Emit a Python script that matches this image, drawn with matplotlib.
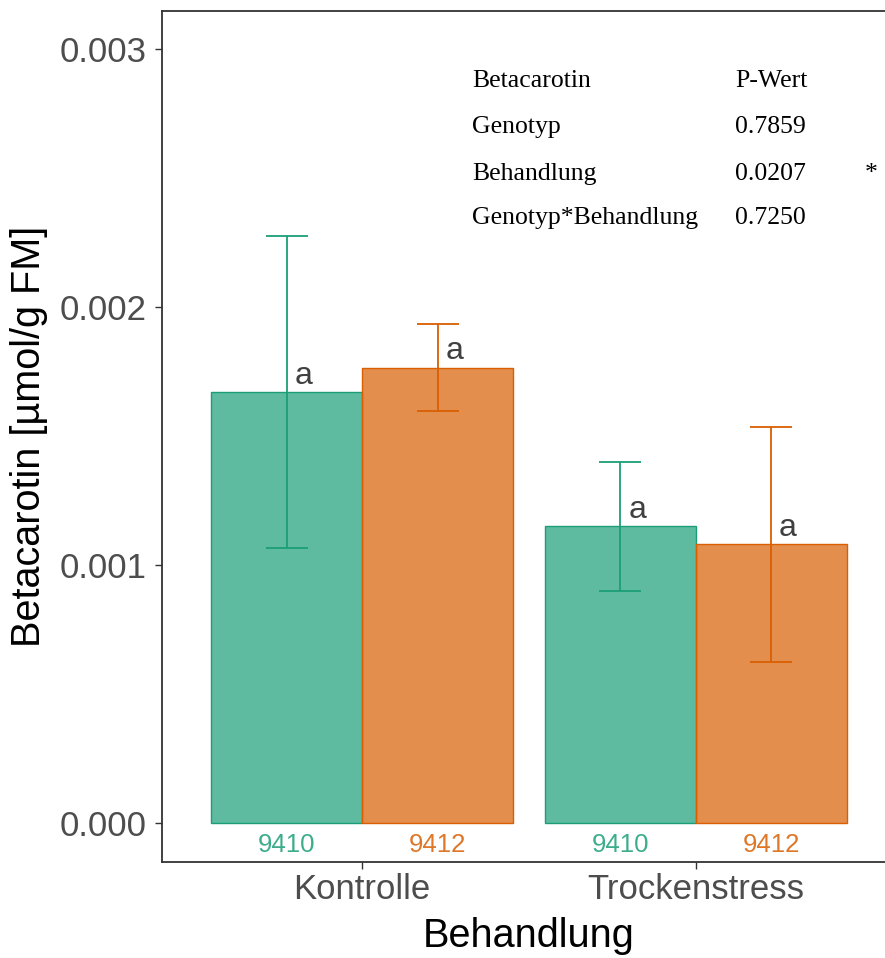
import matplotlib.pyplot as plt
import numpy as np

# Betacarotin per genotype and treatment (means and standard errors)
treatments = ['Kontrolle', 'Trockenstress']
genotypes = ['9410', '9412']
means = {'9410': [0.001670, 0.001151],
         '9412': [0.001764, 0.001081]}
errors = {'9410': [0.000605, 0.000250],
          '9412': [0.000169, 0.000455]}
letters = {'9410': ['a', 'a'],
           '9412': ['a', 'a']}

# ANOVA table shown in the upper right
table_header = ['Betacarotin', 'P-Wert']
table_terms = ['Genotyp', 'Behandlung', 'Genotyp*Behandlung']
table_pvalues = ['0.7859', '0.0207', '0.7250']
table_signif = ['', '*', '']

colors = {'9410': '#1B9E77', '9412': '#D95F02'}

sans = ['Liberation Sans', 'DejaVu Sans']
serif = ['Liberation Serif', 'DejaVu Serif']

fig = plt.figure(figsize=(8.85, 9.58), dpi=100)
ax = fig.add_axes([162 / 885, 96 / 958, 734 / 885, 851 / 958])

x = np.arange(1, len(treatments) + 1)
width = 0.452
offsets = {'9410': -width / 2, '9412': width / 2}

for g in genotypes:
    xpos = x + offsets[g]
    ax.bar(xpos, means[g], width=width, color=colors[g], alpha=0.7,
           edgecolor='none', zorder=2)
    ax.bar(xpos, means[g], width=width, facecolor='none',
           edgecolor=colors[g], linewidth=1.0, zorder=3)
    ax.errorbar(xpos, means[g], yerr=errors[g], fmt='none', ecolor=colors[g],
                elinewidth=1.3, capsize=15, capthick=1.3, zorder=4)
    for xi, m, lab in zip(xpos, means[g], letters[g]):
        ax.annotate(lab, (xi + 0.05, m), xytext=(0, 1), textcoords='offset points',
                    ha='center', va='bottom', fontsize=23, color='#404040',
                    family=sans, zorder=5)
        ax.text(xi, -0.0000853, g, ha='center', va='center', fontsize=18.5,
                color=colors[g], alpha=0.85, family=sans)

ax.set_xlim(0.4, 2.6)
ax.set_ylim(-0.000151, 0.003147)
ax.set_xticks(x)
ax.set_xticklabels(treatments)
ax.set_yticks([0, 0.001, 0.002, 0.003])
ax.set_yticklabels(['0.000', '0.001', '0.002', '0.003'])

for lab in ax.get_xticklabels() + ax.get_yticklabels():
    lab.set_family(sans)
    lab.set_fontsize(25)
    lab.set_color('#4D4D4D')
ax.tick_params(axis='both', length=5, width=1.0, color='#333333')
ax.tick_params(axis='y', pad=5.8)
ax.tick_params(axis='x', pad=3)

for s in ax.spines.values():
    s.set_color('#333333')
    s.set_linewidth(1.3)

ax.set_xlabel('Behandlung', fontsize=28.5, family=sans, color='black')
ax.xaxis.set_label_coords(0.5, -0.065)
ax.set_ylabel('Betacarotin [µmol/g FM]', fontsize=28.5, family=sans, color='black')
ax.yaxis.set_label_coords(-0.155, 0.5)

# p-value table
row_y = [0.002876, 0.002698, 0.002516, 0.002345]
ax.text(1.329, row_y[0], table_header[0], fontsize=18.5, family=serif, va='center')
ax.text(2.117, row_y[0], table_header[1], fontsize=18.5, family=serif, va='center')
for yy, term, p, sig in zip(row_y[1:], table_terms, table_pvalues, table_signif):
    ax.text(1.329, yy, term, fontsize=18.5, family=serif, va='center')
    ax.text(2.117, yy, p, fontsize=18.5, family=serif, va='center')
    if sig:
        ax.text(2.506, yy, sig, fontsize=18.5, family=serif, va='center')

fig.savefig('out.png', dpi=100)
